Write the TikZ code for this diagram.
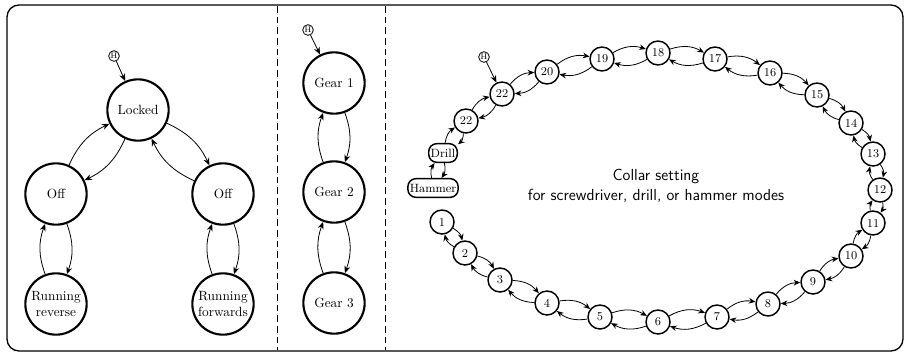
\documentclass[tikz,border=0pt]{standalone}
\usetikzlibrary{arrows.meta}
\begin{document}
\begin{tikzpicture}[x=0.75pt,y=-0.75pt,
  bigstate/.style={circle,draw,line width=1.6pt,minimum size=46pt,inner sep=0pt,align=center,font=\normalsize,text width=40pt},
  ringstate/.style={circle,draw,line width=1.1pt,minimum size=18pt,inner sep=0pt,font=\small},
  modestate/.style={rounded corners=6pt,draw,line width=1.1pt,inner sep=1.5pt,minimum height=14pt,font=\small},
  hist/.style={circle,draw,line width=0.6pt,inner sep=0.3pt,minimum size=8pt,font=\fontsize{6}{6}\selectfont},
  trans/.style={-{Stealth[length=5.5pt,width=4.5pt]},line width=0.6pt},
  ringtrans/.style={-{Stealth[length=5pt,width=4.2pt]},line width=0.6pt,bend left=24},
  divider/.style={line width=0.6pt,dash pattern=on 5pt off 3pt}]
\useasboundingbox (0,0) rectangle (905,357);

% outer frame and panel dividers
\draw[line width=1pt,rounded corners=9pt] (7,5) rectangle (903,351);
\draw[divider] (277,6) -- (277,350);
\draw[divider] (385,6) -- (385,350);

% ---------- power / direction states ----------
\node[hist] (h1) at (114,56) {H};
\node[bigstate] (locked) at (138,110) {Locked};
\node[bigstate] (offl) at (56,194) {Off};
\node[bigstate] (offr) at (223,194) {Off};
\node[bigstate] (rev) at (56,304) {Running\\reverse};
\node[bigstate] (fwd) at (223,304) {Running\\forwards};

\draw[trans] (h1) -- (locked);
\draw[trans] (offl) to[bend left=20] (locked);
\draw[trans] (locked) to[bend left=20] (offl);
\draw[trans] (locked) to[bend left=20] (offr);
\draw[trans] (offr) to[bend left=20] (locked);
\draw[trans] (offl) to[bend left=20] (rev);
\draw[trans] (rev) to[bend left=20] (offl);
\draw[trans] (offr) to[bend left=20] (fwd);
\draw[trans] (fwd) to[bend left=20] (offr);

% ---------- gear selector ----------
\node[hist] (h2) at (308,30) {H};
\node[bigstate] (g1) at (334,83) {Gear 1};
\node[bigstate] (g2) at (334,192) {Gear 2};
\node[bigstate] (g3) at (334,303) {Gear 3};

\draw[trans] (h2) -- (g1);
\draw[trans] (g1) to[bend left=20] (g2);
\draw[trans] (g2) to[bend left=20] (g1);
\draw[trans] (g2) to[bend left=20] (g3);
\draw[trans] (g3) to[bend left=20] (g2);

% ---------- collar ring ----------
\node[font=\sffamily\large,align=center,inner sep=0pt] (collar) at (656,186) {Collar setting\\[1pt]for screwdriver, drill, or hammer modes};

\node[hist] (h3) at (484,57) {H};
\node[modestate] (hammer) at (433,188) {Hammer};
\node[modestate] (drill) at (443,153) {Drill};
\node[ringstate] (c23) at (466,121) {22};
\node[ringstate] (c22) at (502,94) {22};
\node[ringstate] (c20) at (547,72) {20};
\node[ringstate] (c19) at (602,59) {19};
\node[ringstate] (c18) at (658,53) {18};
\node[ringstate] (c17) at (715,59) {17};
\node[ringstate] (c16) at (770,73) {16};
\node[ringstate] (c15) at (817,95) {15};
\node[ringstate] (c14) at (851,123) {14};
\node[ringstate] (c13) at (873,154) {13};
\node[ringstate] (c12) at (880,190) {12};
\node[ringstate] (c11) at (873,223) {11};
\node[ringstate] (c10) at (851,256) {10};
\node[ringstate] (c9) at (813,282) {9};
\node[ringstate] (c8) at (768,304) {8};
\node[ringstate] (c7) at (717,317) {7};
\node[ringstate] (c6) at (658,322) {6};
\node[ringstate] (c5) at (600,317) {5};
\node[ringstate] (c4) at (547,303) {4};
\node[ringstate] (c3) at (500,280) {3};
\node[ringstate] (c2) at (465,253) {2};
\node[ringstate] (c1) at (442,222) {1};

\draw[trans] (h3) -- (c22);
\foreach \a/\b in {hammer/drill,drill/c23,c23/c22,c22/c20,c20/c19,c19/c18,c18/c17,
  c17/c16,c16/c15,c15/c14,c14/c13,c13/c12,c12/c11,c11/c10,c10/c9,c9/c8,c8/c7,
  c7/c6,c6/c5,c5/c4,c4/c3,c3/c2,c2/c1}{
  \draw[ringtrans] (\a) to (\b);
  \draw[ringtrans] (\b) to (\a);
}
\end{tikzpicture}
\end{document}
